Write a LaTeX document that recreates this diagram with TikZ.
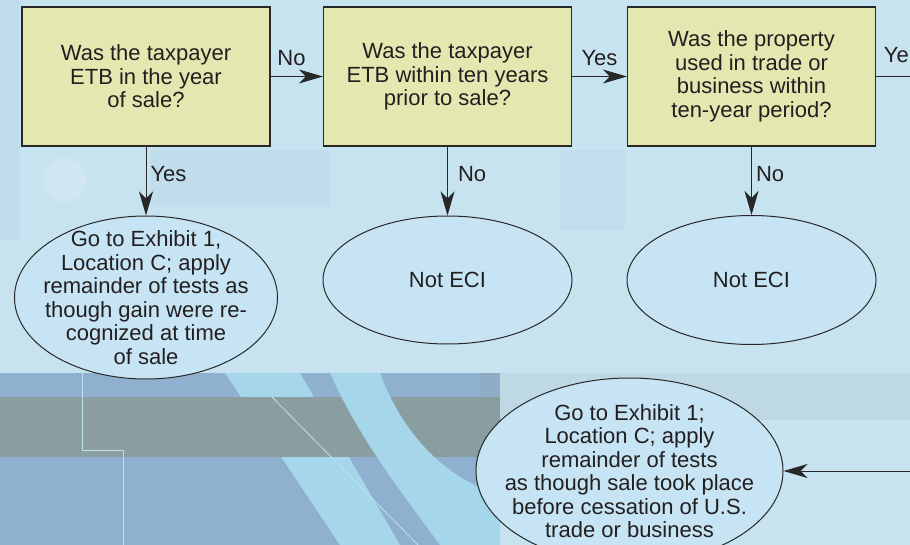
\documentclass[tikz,border=0pt]{standalone}
\usepackage{fontspec}
\setmainfont{Liberation Sans}
\usetikzlibrary{shapes.geometric,arrows.meta}

\definecolor{bglight}{RGB}{200,227,240}
\definecolor{bgsoft}{RGB}{176,210,230}
\definecolor{bgmid}{RGB}{143,176,206}
\definecolor{bggray}{RGB}{138,157,160}
\definecolor{bgstreak}{RGB}{166,214,234}
\definecolor{bgline}{RGB}{190,225,240}
\definecolor{boxfill}{RGB}{226,232,176}
\definecolor{ellfill}{RGB}{198,228,243}
\definecolor{linecol}{RGB}{40,40,40}
\definecolor{inkcol}{RGB}{35,31,32}

\newcommand{\chartfont}{\fontsize{22}{23.5}\selectfont}

\begin{document}
\begin{tikzpicture}[x=1pt,y=-1pt,
  question/.style={draw=linecol, line width=1.2pt, fill=boxfill,
    minimum width=248pt, minimum height=139pt, inner sep=0pt,
    align=center, text=inkcol, font=\chartfont},
  outcome/.style={ellipse, draw=linecol, line width=1pt, fill=ellfill, inner sep=0pt},
  outtext/.style={align=center, text=inkcol, font=\chartfont, inner sep=0pt},
  flow/.style={draw=linecol, line width=1pt,
    -{Stealth[length=24pt,width=14pt,inset=7pt]}},
  tag/.style={text=inkcol, font=\chartfont, inner sep=4pt}]

\useasboundingbox (0,0) rectangle (910,545);
\clip (0,0) rectangle (910,545);

% backdrop
\fill[bglight] (0,0) rectangle (910,545);
\fill[bgsoft, opacity=0.35] (0,0) rectangle (20,240);
\fill[bgsoft, opacity=0.3] (150,150) rectangle (330,205);
\fill[bgsoft, opacity=0.25] (560,150) rectangle (625,230);
\fill[white, opacity=0.15] (65,180) circle (22);
\fill[bgmid] (0,373) rectangle (500,545);
\fill[bgstreak] (225,373) -- (300,373) -- (400,545) -- (340,545) -- cycle;
\fill[bggray] (0,397) rectangle (500,457);
\fill[bgstreak] (330,373) -- (380,373)
  .. controls (405,440) and (450,480) .. (500,495) -- (500,545) -- (440,545)
  .. controls (400,490) and (360,440) .. (330,373) -- cycle;
\fill[bggray, opacity=0.15] (480,373) rectangle (910,420);
\draw[bgline, line width=0.8pt] (82,373) -- (82,450) -- (123,450) -- (123,545);
\draw[bgline, line width=0.8pt] (272,397) -- (418,545);

% decision boxes
\node[question] (b1) at (146,76.5) {Was the taxpayer\\ETB in the year\\of sale?};
\node[question] (b2) at (447.5,76.5) {Was the taxpayer\\ETB within ten years\\prior to sale?};
\node[question] (b3) at (751.5,76.5) {Was the property\\used in trade or\\business within\\ten-year period?};

% outcomes
\node[outcome, minimum width=263pt, minimum height=163pt] (e1) at (146,297.5) {};
\node[outtext] at (e1.center) {Go to Exhibit 1,\\Location C; apply\\remainder of tests as\\though gain were re-\\cognized at time\\of sale};
\node[outcome, minimum width=249pt, minimum height=128pt] (e2) at (447.5,280) {};
\node[outtext] at (e2.center) {Not ECI};
\node[outcome, minimum width=249pt, minimum height=129pt] (e3) at (751.5,280) {};
\node[outtext] at (e3.center) {Not ECI};
\node[outcome, minimum width=307pt, minimum height=186pt] (e4) at (629.5,471) {};
\node[outtext] at (e4.center) {Go to Exhibit 1;\\Location C; apply\\remainder of tests\\as though sale took place\\before cessation of U.S.\\trade or business};

% connectors
\coordinate (outR) at (910,76.5);
\coordinate (inR) at (910,471);
\draw[flow] (b1) -- node[tag, above=6pt, pos=0.4] {No} (b2);
\draw[flow] (b2) -- node[tag, above=6pt, pos=0.5] {Yes} (b3);
\draw[draw=linecol, line width=1pt] (b3) -- (outR);
\node[tag, anchor=south east, inner sep=0pt] (ylab) at (909,63) {Ye};
\draw[flow] (b1.south) -- node[tag, right, pos=0.4] {Yes} (b1.south |- e1.north);
\draw[flow] (b2.south) -- node[tag, right=6pt, pos=0.4] {No} (b2.south |- e2.north);
\draw[flow] (b3.south) -- node[tag, right, pos=0.4] {No} (b3.south |- e3.north);
\draw[flow] (inR) -- (e4);
\end{tikzpicture}
\end{document}
